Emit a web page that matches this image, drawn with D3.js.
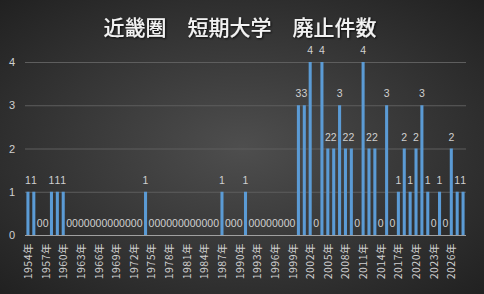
<!DOCTYPE html>
<html>
<head>
<meta charset="utf-8">
<style>
body { margin:0; background:#222; }
svg { display:block; }
</style>
</head>
<body>
<script src="https://cdn.jsdelivr.net/npm/d3@7"></script>
<script>
// years 1954 .. 2028, one value per year
var years = d3.range(1954, 2029);
var counts = [
  1,1,0,0,1,1,1,0,0,0, 0,0,0,0,0,0,0,0,0,0,   // 1954-1973
  1,0,0,0,0,0,0,0,0,0, 0,0,0,1,0,0,0,1,0,0,   // 1974-1993
  0,0,0,0,0,0,3,3,4,0, 4,2,2,3,2,2,0,4,2,2,   // 1994-2013
  0,3,0,1,2,1,2,3,1,0, 1,0,2,1,1              // 2014-2028
];
var tickYears = d3.range(1954, 2029, 3);
var title = "近畿圏　短期大学　廃止件数";

var W = 484, H = 294;
var svg = d3.select("body").append("svg").attr("width", W).attr("height", H);

var defs = svg.append("defs");
var bg = defs.append("radialGradient").attr("id", "bg")
  .attr("cx", "50%").attr("cy", "50%").attr("r", "75%");
bg.append("stop").attr("offset", "0%").attr("stop-color", "#4e4e4e");
bg.append("stop").attr("offset", "100%").attr("stop-color", "#1e1e1e");
var f = defs.append("filter").attr("id", "sh");
f.append("feDropShadow").attr("dx", 1).attr("dy", 1).attr("stdDeviation", 0.8)
  .attr("flood-color", "#000").attr("flood-opacity", 0.8);

svg.append("rect").attr("width", W).attr("height", H).attr("fill", "url(#bg)");

svg.append("text").attr("x", 240).attr("y", 35)
  .attr("text-anchor", "middle")
  .attr("font-family", "'Noto Sans CJK JP', sans-serif")
  .attr("font-size", 21).attr("font-weight", 500)
  .attr("fill", "#f2f2f2").attr("filter", "url(#sh)")
  .text(title);

var x = d3.scaleBand().domain(years).range([25, 466]).paddingInner(0.48).paddingOuter(0.24);
var y = d3.scaleLinear().domain([0, 4]).range([235, 62]);

// gridlines
svg.append("g").selectAll("line").data([1, 2, 3, 4]).enter().append("line")
  .attr("x1", 25).attr("x2", 466)
  .attr("y1", function(d) { return y(d) + 0.5; })
  .attr("y2", function(d) { return y(d) + 0.5; })
  .attr("stroke", "#5e5e5e").attr("stroke-width", 1);

// y tick labels
svg.append("g").selectAll("text").data([0, 1, 2, 3, 4]).enter().append("text")
  .attr("x", 12).attr("y", function(d) { return y(d) + 4; })
  .attr("text-anchor", "middle")
  .attr("font-family", "'Liberation Sans', sans-serif").attr("font-size", 11)
  .attr("fill", "#d0d0d0")
  .text(function(d) { return d; });

// bars
svg.append("g").selectAll("rect").data(years).enter().append("rect")
  .attr("x", function(d) { return x(d); })
  .attr("width", x.bandwidth())
  .attr("y", function(d, i) { return y(counts[i]); })
  .attr("height", function(d, i) { return y(0) - y(counts[i]); })
  .attr("fill", "#5b9bd5");

// axis line
svg.append("line").attr("x1", 25).attr("x2", 466)
  .attr("y1", y(0) + 0.5).attr("y2", y(0) + 0.5)
  .attr("stroke", "#a0a0a0").attr("stroke-width", 1);

// data labels
svg.append("g").selectAll("text").data(years).enter().append("text")
  .attr("x", function(d) { return x(d) + x.bandwidth() / 2; })
  .attr("y", function(d, i) { return y(counts[i]) - 8; })
  .attr("text-anchor", "middle")
  .attr("font-family", "'Liberation Sans', sans-serif").attr("font-size", 10.5)
  .attr("fill", "#d0d0d0")
  .text(function(d, i) { return counts[i]; });

// x tick labels, rotated
svg.append("g").selectAll("text").data(tickYears).enter().append("text")
  .attr("transform", function(d) {
    return "translate(" + (x(d) + x.bandwidth() / 2 + 4) + ",243) rotate(-90)";
  })
  .attr("text-anchor", "end")
  .attr("font-family", "'Noto Sans CJK JP', sans-serif").attr("font-size", 10.5)
  .attr("letter-spacing", 0.5)
  .attr("fill", "#d0d0d0")
  .text(function(d) { return d + "年"; });
</script>
</body>
</html>
